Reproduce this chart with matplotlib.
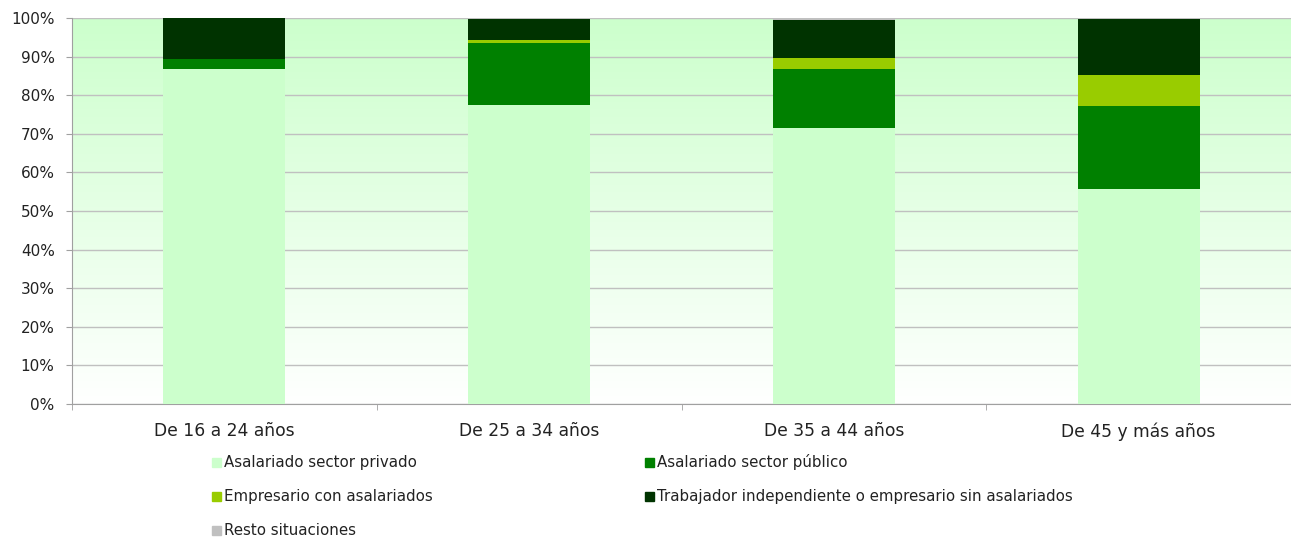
import numpy as np
import matplotlib.pyplot as plt
from matplotlib.patches import Rectangle

plt.rcParams['font.family'] = ['DejaVu Sans']

grupos = ["De 16 a 24 años", "De 25 a 34 años", "De 35 a 44 años", "De 45 y más años"]
series = ["Asalariado sector privado", "Asalariado sector público", "Empresario con asalariados",
          "Trabajador independiente o empresario sin asalariados", "Resto situaciones"]
privado = [86.8, 77.5, 71.5, 55.7]
publico = [2.6, 15.9, 15.3, 21.6]
empresario = [0.0, 0.9, 2.8, 7.9]
independiente = [10.6, 5.4, 10.0, 14.5]
resto = [0.0, 0.3, 0.4, 0.3]
colores = ["#ccffcc", "#008000", "#99cc00", "#003300", "#c0c0c0"]

valores = [privado, publico, empresario, independiente, resto]

W, H = 1291, 538
fig = plt.figure(figsize=(W / 100, H / 100), dpi=100)
ax = fig.add_axes([72 / W, 134 / H, 1219 / W, 386 / H])

# fondo degradado verde claro -> blanco
grad = np.linspace(0, 1, 256).reshape(-1, 1)
top = np.array([0.80, 1.0, 0.80])
bot = np.array([1.0, 1.0, 1.0])
img = bot + (top - bot) * grad[..., None]
ax.imshow(img, extent=[-0.5, len(grupos) - 0.5, 0, 100], origin='lower', aspect='auto', zorder=0)

x = np.arange(len(grupos))
base = np.zeros(len(grupos))
for vals, col, nom in zip(valores, colores, series):
    ax.bar(x, vals, bottom=base, width=0.4, color=col, label=nom, zorder=3)
    base += np.array(vals)

ax.set_xlim(-0.5, len(grupos) - 0.5)
ax.set_ylim(0, 100)
ax.set_yticks(np.arange(0, 101, 10))
ax.set_yticklabels([f"{v}%" for v in range(0, 101, 10)], fontsize=11)
ax.yaxis.grid(True, color="#c0c0c0", linewidth=1, zorder=1)
ax.set_axisbelow(True)

ax.set_xticks(x)
ax.set_xticklabels(grupos, fontsize=12.3, color="#222222")
ax.set_xticks(np.arange(-0.5, len(grupos), 1), minor=True)
ax.tick_params(axis='x', which='major', length=0, pad=13)
ax.tick_params(axis='x', which='minor', length=4, color="#a0a0a0")
ax.tick_params(axis='y', length=4, color="#a0a0a0", pad=8.5, labelcolor="#222222")

for s in ["top", "right"]:
    ax.spines[s].set_visible(False)
for s in ["left", "bottom"]:
    ax.spines[s].set_color("#a0a0a0")

# leyenda
pos = [(212, 462), (645, 462), (212, 496.5), (645, 496.5), (212, 530.5)]
for (px, py), col, nom in zip(pos, colores, series):
    fig.patches.append(Rectangle((px / W, 1 - (py + 4.5) / H), 9 / W, 9 / H,
                                 color=col, transform=fig.transFigure, figure=fig))
    fig.text((px + 12) / W, 1 - py / H, nom, fontsize=10.8, va='center', ha='left', color="#222222")

fig.savefig("out.png", dpi=100)
